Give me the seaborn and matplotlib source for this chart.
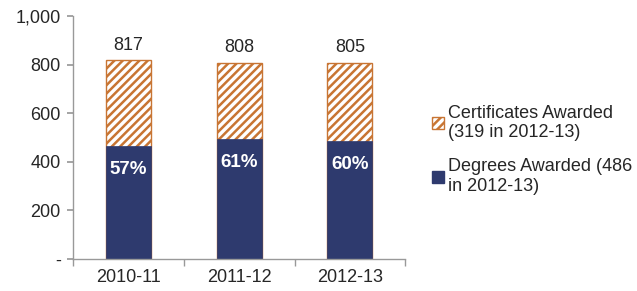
import matplotlib
matplotlib.use('Agg')
import matplotlib.pyplot as plt
import seaborn as sns
import pandas as pd
from matplotlib.patches import Patch
from matplotlib.ticker import FuncFormatter

sns.set_theme(style='white')
plt.rcParams['font.family'] = ['Liberation Sans', 'DejaVu Sans']
plt.rcParams['hatch.linewidth'] = 1.8

# Data
years = ['2010-11', '2011-12', '2012-13']
degrees = [466, 493, 486]
certificates = [351, 315, 319]
totals = [d + c for d, c in zip(degrees, certificates)]
pct_labels = ['57%', '61%', '60%']

navy = '#2E3A6E'
orange = '#C87533'
text_col = '#262626'

df = pd.DataFrame({'year': years, 'degrees': degrees, 'total': totals})

fig = plt.figure(figsize=(6.37, 2.91), dpi=100)
ax = fig.add_axes([0.115, 0.11, 0.521, 0.835])

# Total bar (hatched certificates on top) then degrees over it
sns.barplot(data=df, x='year', y='total', color='white', width=0.41, ax=ax,
            edgecolor=orange, linewidth=1.0, hatch='////', saturation=1)
sns.barplot(data=df, x='year', y='degrees', color=navy, width=0.41, ax=ax,
            edgecolor=navy, linewidth=0.5, saturation=1)

for i, (t, d, p) in enumerate(zip(totals, degrees, pct_labels)):
    ax.annotate(str(t), (i, t), xytext=(0, 5), textcoords='offset points',
                ha='center', va='bottom', fontsize=13, color=text_col)
    ax.annotate(p, (i, d), xytext=(0, -11), textcoords='offset points',
                ha='center', va='top', fontsize=13.5, color='white', fontweight='bold')

ax.set_ylim(0, 1000)
ax.set_xlim(-0.5, 2.5)
ax.set_yticks([0, 200, 400, 600, 800, 1000])
ax.yaxis.set_major_formatter(FuncFormatter(lambda v, _: '-' if v == 0 else f'{int(v):,}'))
ax.set_xlabel('')
ax.set_ylabel('')

# category boundary ticks on x axis
ax.set_xticks([-0.5, 0.5, 1.5, 2.5], minor=True)
ax.tick_params(axis='x', which='major', length=0, labelsize=13, labelcolor=text_col, pad=7)
ax.tick_params(axis='x', which='minor', length=5, color='#999999', direction='out', bottom=True)
ax.tick_params(axis='y', length=4, color='#999999', direction='out', left=True,
               labelsize=13, labelcolor=text_col, pad=5)

sns.despine(ax=ax)
for s in ['left', 'bottom']:
    ax.spines[s].set_color('#999999')
    ax.spines[s].set_linewidth(1.0)

handles = [Patch(facecolor='white', edgecolor=orange, hatch='////', label='Certificates Awarded\n(319 in 2012-13)'),
           Patch(facecolor=navy, edgecolor=navy, label='Degrees Awarded (486\nin 2012-13)')]
fig.legend(handles=handles, loc='center left', bbox_to_anchor=(0.678, 0.485), frameon=False,
           fontsize=13, handlelength=0.65, handleheight=0.65, handletextpad=0.25,
           labelspacing=0.95, labelcolor=text_col, borderaxespad=0, borderpad=0)

plt.savefig('out.png', dpi=100, facecolor='white')
